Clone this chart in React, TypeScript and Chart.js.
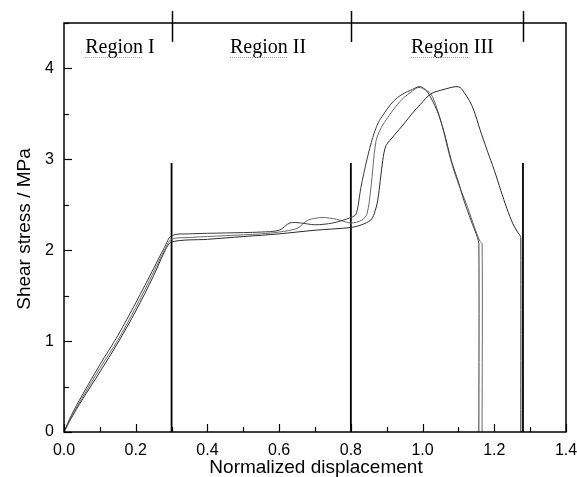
import React, { useEffect, useRef } from "react";
import { Chart, registerables } from "chart.js";
Chart.register(...registerables);

// Curve A (early peak)
const aX = [0, 0.02, 0.05, 0.1, 0.15, 0.2, 0.25, 0.28, 0.3, 0.35, 0.45, 0.55, 0.6, 0.63, 0.66, 0.7, 0.75, 0.8, 0.815, 0.828, 0.845, 0.861, 0.876, 0.892, 0.91, 0.93, 0.95, 0.967, 0.99, 1.0, 1.014, 1.04, 1.06, 1.08, 1.1, 1.115, 1.135, 1.153, 1.157, 1.157];
const aY = [0, 0.18, 0.4, 0.74, 1.06, 1.42, 1.8, 2.03, 2.16, 2.18, 2.19, 2.2, 2.22, 2.3, 2.3, 2.28, 2.3, 2.36, 2.4, 2.69, 3.0, 3.24, 3.4, 3.5, 3.6, 3.68, 3.73, 3.76, 3.8, 3.79, 3.74, 3.54, 3.3, 2.99, 2.75, 2.55, 2.33, 2.14, 2.07, 0];
// Curve B (middle)
const bX = [0, 0.02, 0.05, 0.1, 0.15, 0.2, 0.25, 0.28, 0.3, 0.35, 0.45, 0.55, 0.6, 0.65, 0.68, 0.72, 0.76, 0.8, 0.83, 0.845, 0.856, 0.87, 0.885, 0.903, 0.925, 0.948, 0.968, 0.987, 1.0, 1.023, 1.04, 1.056, 1.07, 1.087, 1.105, 1.126, 1.145, 1.16, 1.166, 1.166];
const bY = [0, 0.16, 0.37, 0.7, 1.01, 1.37, 1.76, 2.0, 2.12, 2.14, 2.16, 2.18, 2.2, 2.24, 2.33, 2.36, 2.34, 2.3, 2.33, 2.4, 2.69, 3.2, 3.35, 3.46, 3.58, 3.68, 3.74, 3.79, 3.78, 3.72, 3.56, 3.35, 3.12, 2.88, 2.68, 2.47, 2.25, 2.1, 2.07, 0];
// Curve C (late peak)
const cX = [0, 0.02, 0.05, 0.1, 0.15, 0.2, 0.25, 0.28, 0.3, 0.4, 0.5, 0.6, 0.7, 0.8, 0.83, 0.855, 0.865, 0.875, 0.889, 0.898, 0.92, 0.948, 0.97, 0.995, 1.023, 1.06, 1.093, 1.105, 1.115, 1.13, 1.143, 1.16, 1.18, 1.2, 1.218, 1.235, 1.252, 1.265, 1.272, 1.274, 1.274];
const cY = [0, 0.15, 0.35, 0.66, 0.98, 1.33, 1.72, 1.98, 2.09, 2.12, 2.15, 2.18, 2.22, 2.25, 2.28, 2.33, 2.4, 2.55, 2.99, 3.15, 3.26, 3.39, 3.5, 3.61, 3.72, 3.77, 3.8, 3.79, 3.74, 3.65, 3.54, 3.33, 3.1, 2.88, 2.66, 2.46, 2.29, 2.2, 2.16, 2.14, 0];

// Region boundaries
const regionBounds = [0.3, 0.8, 1.28];
const regionLineTop = 2.96;
const regionLabels = ["Region I", "Region II", "Region III"];
const regionLabelX = [0.156, 0.569, 1.083];

const xTitle = "Normalized displacement";
const yTitle = "Shear stress / MPa";

const pts = (xs: number[], ys: number[]) => xs.map((x, i) => ({ x, y: ys[i] }));

const framePlugin = {
  id: "frame",
  afterDraw(chart: any) {
    const ctx = chart.ctx;
    const { left, right, top, bottom } = chart.chartArea;
    const xs = chart.scales.x;
    const ys = chart.scales.y;
    ctx.save();
    ctx.strokeStyle = "#000";
    ctx.lineWidth = 1.5;
    ctx.strokeRect(left, top, right - left, bottom - top);
    // x ticks inward
    ctx.lineWidth = 1.2;
    for (let i = 0; i <= 14; i++) {
      const px = Math.round(xs.getPixelForValue(i / 10)) + 0.5;
      const len = i % 2 === 0 ? 8 : 5;
      ctx.beginPath();
      ctx.moveTo(px, bottom);
      ctx.lineTo(px, bottom - len);
      ctx.stroke();
    }
    for (let i = 0; i <= 9; i++) {
      const py = Math.round(ys.getPixelForValue(i / 2)) + 0.5;
      const len = i % 2 === 0 ? 8 : 5;
      ctx.beginPath();
      ctx.moveTo(left, py);
      ctx.lineTo(left + len, py);
      ctx.stroke();
    }
    // region ticks on top axis
    ctx.lineWidth = 1.5;
    regionBounds.forEach((v) => {
      const px = Math.round(xs.getPixelForValue(v)) + 0.5;
      ctx.beginPath();
      ctx.moveTo(px, top - 12);
      ctx.lineTo(px, top + 19);
      ctx.stroke();
    });
    // region labels
    ctx.font = '20px "Liberation Serif"';
    ctx.fillStyle = "#000";
    ctx.textAlign = "center";
    ctx.textBaseline = "alphabetic";
    regionLabels.forEach((t, i) => {
      const cx = xs.getPixelForValue(regionLabelX[i]);
      const by = top + 30;
      ctx.fillText(t, cx, by);
      const w = ctx.measureText(t).width;
      const rw = ctx.measureText("Region").width;
      const x0 = cx - w / 2;
      ctx.strokeStyle = "#a0a0a0";
      ctx.lineWidth = 1;
      ctx.setLineDash([1, 1]);
      ctx.beginPath();
      ctx.moveTo(x0, by + 4.5);
      ctx.lineTo(x0 + rw, by + 4.5);
      ctx.stroke();
      ctx.setLineDash([]);
    });
    // axis titles
    ctx.fillStyle = "#000";
    ctx.font = '19px "Liberation Sans"';
    ctx.textAlign = "center";
    ctx.textBaseline = "alphabetic";
    ctx.fillText(xTitle, 316, 473);
    ctx.translate(30, 229);
    ctx.rotate(-Math.PI / 2);
    ctx.fillText(yTitle, 0, 0);
    ctx.restore();
  },
};

export default function App() {
  const ref = useRef<HTMLCanvasElement | null>(null);
  useEffect(() => {
    document.body.style.margin = "0";
    if (!ref.current) return;
    const line = (data: any, color: string, width = 1) => ({
      data,
      borderColor: color,
      borderWidth: width,
      pointRadius: 0,
      showLine: true,
      tension: 0.3,
      fill: false,
    });
    const chart = new Chart(ref.current, {
      type: "scatter",
      data: {
        datasets: [
          line(pts(aX, aY), "#3a3a3a"),
          line(pts(bX, bY), "#6a6a6a"),
          line(pts(cX, cY), "#2a2a2a"),
          ...regionBounds.map((v) => ({
            data: [
              { x: v, y: 0 },
              { x: v, y: regionLineTop },
            ],
            borderColor: "#000",
            borderWidth: 1.8,
            pointRadius: 0,
            showLine: true,
            fill: false,
          })),
        ] as any,
      },
      options: {
        responsive: false,
        animation: false,
        devicePixelRatio: 1,
        layout: { padding: { top: 23, right: 11, left: 0, bottom: 0 } },
        plugins: { legend: { display: false }, tooltip: { enabled: false } },
        scales: {
          x: {
            type: "linear",
            min: 0,
            max: 1.4,
            afterFit: (s: any) => {
              s.height = 45;
              s.paddingLeft = 0;
              s.paddingRight = 0;
            },
            grid: { display: false, drawTicks: false },
            border: { display: false },
            ticks: {
              stepSize: 0.1,
              autoSkip: false,
              maxRotation: 0,
              padding: 9,
              color: "#000",
              font: { family: "Liberation Sans", size: 16 },
              callback: (v: any) => {
                const n = Math.round(Number(v) * 10);
                return n % 2 === 0 ? (n / 10).toFixed(1) : "";
              },
            },
          },
          y: {
            type: "linear",
            min: 0,
            max: 4.5,
            afterFit: (s: any) => {
              s.width = 64;
              s.paddingTop = 0;
              s.paddingBottom = 0;
            },
            grid: { display: false, drawTicks: false },
            border: { display: false },
            ticks: {
              stepSize: 0.5,
              autoSkip: false,
              padding: 10,
              color: "#000",
              font: { family: "Liberation Sans", size: 16 },
              callback: (v: any) => {
                const n = Number(v);
                return Math.abs(n - Math.round(n)) < 1e-6 && n < 4.4 ? String(Math.round(n)) : "";
              },
            },
          },
        },
      },
      plugins: [framePlugin],
    });
    return () => chart.destroy();
  }, []);
  return (
    <div style={{ width: 577, height: 477, background: "#fff" }}>
      <canvas ref={ref} width={577} height={477} style={{ width: 577, height: 477, display: "block" }} />
    </div>
  );
}
